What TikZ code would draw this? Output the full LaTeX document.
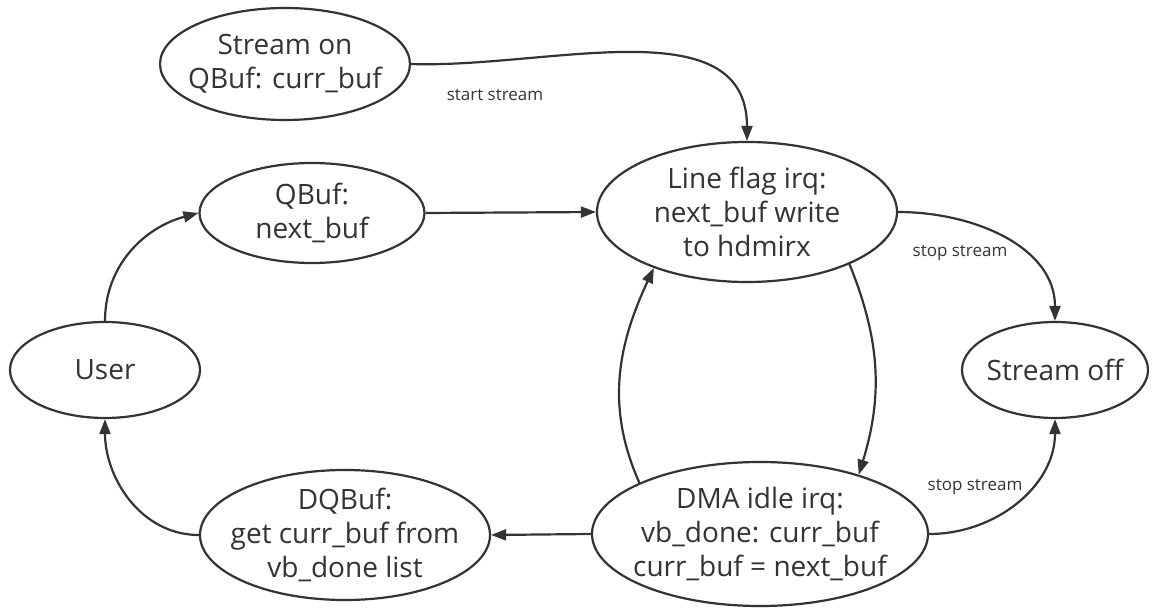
\documentclass[tikz,border=0pt]{standalone}
\usepackage{fontspec}
\setmainfont{Open Sans}
\usetikzlibrary{shapes.geometric,arrows.meta}
\definecolor{ink}{HTML}{333333}
\tikzset{
  state/.style={ellipse,draw=ink,line width=2.2pt,fill=white,text=ink,align=center,
    inner xsep=-15pt,inner ysep=-4pt,font=\fontsize{28}{34}\selectfont},
  flow/.style={draw=ink,line width=2.2pt,-{Triangle[length=15pt,width=11pt]}},
  lbl/.style={text=ink,font=\fontsize{17}{20}\selectfont}
}
\begin{document}
\begin{tikzpicture}[x=1pt,y=1pt]
  \useasboundingbox (0,0) rectangle (1152,-609);
  \node[state,minimum width=250pt,minimum height=112pt] (son) at (285,-64) {Stream on\\QBuf: curr\_buf};
  \node[state,minimum width=225pt,minimum height=100pt] (qbuf) at (312,-213) {QBuf:\\next\_buf};
  \node[state,minimum width=190pt,minimum height=96pt] (user) at (105,-370) {User};
  \node[state,minimum width=290pt,minimum height=130pt] (dqbuf) at (345,-535) {DQBuf:\\get curr\_buf from\\vb\_done list};
  \node[state,minimum width=300pt,minimum height=140pt] (lineirq) at (747,-212) {Line flag irq:\\next\_buf write\\to hdmirx};
  \node[state,minimum width=336pt,minimum height=144pt] (dmairq) at (760,-534) {DMA idle irq:\\vb\_done: curr\_buf\\curr\_buf = next\_buf};
  \node[state,minimum width=186pt,minimum height=96pt] (soff) at (1055,-370) {Stream off};
  \node[lbl] (startlbl) at (495,-95) {start stream};
  \node[lbl] (stoplbla) at (960,-253) {stop stream};
  \node[lbl] (stoplblb) at (975,-487) {stop stream};
  \begin{scope}[flow]
    \draw (son.east) to[out=-2,in=90] (lineirq.north);
    \draw (qbuf.east) to (lineirq.west);
    \draw (user.north) to[out=90,in=195] (qbuf.west);
    \draw (dqbuf.west) to[out=180,in=-90] (user.south);
    \draw (dmairq.west) to (dqbuf.east);
    \draw (dmairq.157) to[out=114,in=-115] (lineirq.211);
    \draw (lineirq.-27) to[out=-68,in=73] (dmairq.31);
    \draw (lineirq.east) to[out=0,in=90] (soff.north);
    \draw (dmairq.east) to[out=0,in=-90] (soff.south);
  \end{scope}
\end{tikzpicture}
\end{document}
